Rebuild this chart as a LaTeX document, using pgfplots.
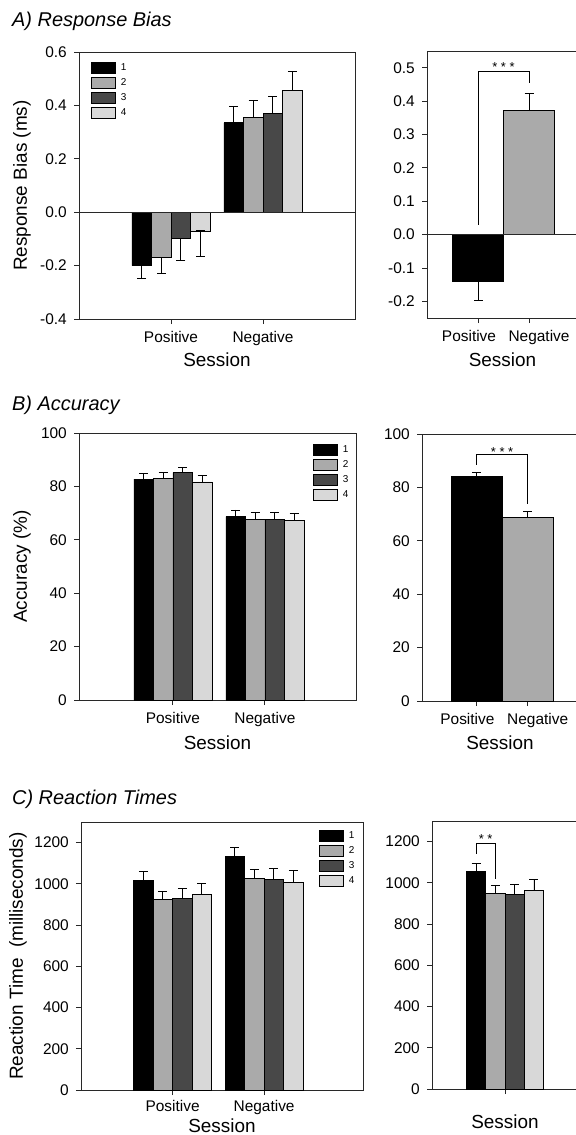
\documentclass[border=0pt]{standalone}
\usepackage{pgfplots}
\pgfplotsset{compat=1.18}
\usepackage{fontspec}
\setmainfont{Liberation Sans}
\definecolor{cA}{RGB}{0,0,0}
\definecolor{cB}{RGB}{170,170,170}
\definecolor{cC}{RGB}{72,72,72}
\definecolor{cD}{RGB}{216,216,216}
\definecolor{frm}{RGB}{40,40,40}
\pgfplotsset{
 panel/.style={
  scale only axis, anchor=south west,
  axis line style={line width=0.8bp, frm},
  tick align=outside, major tick length=5bp,
  every tick/.style={line width=0.8bp, frm},
  xtick pos=bottom, ytick pos=left,
  tick label style={font=\fontsize{15.5}{18}\selectfont},
  yticklabel style={inner sep=0pt, xshift=-7bp},
  xticklabel style={inner sep=0pt, yshift=-7bp},
  legend style={draw=none, fill=none, font=\fontsize{10}{12}\selectfont, anchor=north west,
    inner sep=0pt, row sep=3.3bp, column sep=5bp, nodes={inner sep=0pt}},
  legend cell align=left,
 },
 ylab/.style={every axis y label/.style={at={(axis description cs:#1,0.5)}, rotate=90, anchor=center, font=\fontsize{19}{22}\selectfont}},
 xlab/.style={every axis x label/.style={at={(axis description cs:0.5,#1)}, anchor=center, font=\fontsize{19}{22}\selectfont}},
 lg/.style={legend image code/.code={\draw[fill=#1, draw=black, line width=0.7bp] (0bp,-5.5bp) rectangle (24bp,5.5bp);}},
 b1/.style={fill=cA, draw=black, line width=0.6bp, lg=cA},
 b2/.style={fill=cB, draw=black, line width=0.6bp, lg=cB},
 b3/.style={fill=cC, draw=black, line width=0.6bp, lg=cC},
 b4/.style={fill=cD, draw=black, line width=0.6bp, lg=cD},
 eb/.style={error bars/y dir=plus, error bars/y explicit, error bars/error mark=-,
   error bars/error bar style={line width=0.8bp, black},
   error bars/error mark options={rotate=90, black, line width=0.8bp, mark size=4.5bp}},
 ebb/.style={error bars/y dir=both, error bars/y explicit, error bars/error mark=-,
   error bars/error bar style={line width=0.8bp, black},
   error bars/error mark options={rotate=90, black, line width=0.8bp, mark size=4.5bp}},
}
\begin{document}
\begin{tikzpicture}
\useasboundingbox (0bp,0bp) rectangle (576bp,-1135bp);
% Titles
\node[anchor=base west, inner sep=0pt, font=\fontsize{20}{24}\selectfont\itshape] at (12bp,-26.7bp) {A) Response Bias};
\node[anchor=base west, inner sep=0pt, font=\fontsize{20}{24}\selectfont\itshape] at (12bp,-410.7bp) {B) Accuracy};
\node[anchor=base west, inner sep=0pt, font=\fontsize{20}{24}\selectfont\itshape] at (12bp,-804bp) {C) Reaction Times};

% ---------- A left
\begin{axis}[panel, at={(79bp,-319bp)}, width=276bp, height=267bp,
  xmin=-1, xmax=2, ymin=-0.4, ymax=0.6,
  ytick={-0.4,-0.2,0,0.2,0.4,0.6}, yticklabels={-0.4,-0.2,0.0,0.2,0.4,0.6},
  xtick={0,1}, xticklabels={Positive,Negative},
  ybar=0pt, bar width=19.6bp,
  ylabel={Response Bias (ms)}, xlabel={Session},
  ylab=-0.2065, xlab=-0.1536,
  legend style={at={(axis description cs:0.0435,0.964)}}]
\addplot[b1, ebb] coordinates {(0,-0.200) += (0,0) -= (0,0.048) (1,0.335) += (0,0.060) -= (0,0)};
\addplot[b2, ebb] coordinates {(0,-0.169) += (0,0) -= (0,0.061) (1,0.355) += (0,0.064) -= (0,0)};
\addplot[b3, ebb] coordinates {(0,-0.097) += (0,0) -= (0,0.083) (1,0.370) += (0,0.062) -= (0,0)};
\addplot[b4, ebb] coordinates {(0,-0.070) += (0,0) -= (0,0.096) (1,0.456) += (0,0.071) -= (0,0)};
\legend{1,2,3,4}
\draw[line width=0.8bp, frm] (axis cs:-1,0) -- (axis cs:2,0);
\end{axis}

% ---------- A right
\begin{axis}[panel, at={(427bp,-318bp)}, width=151bp, height=267bp,
  xmin=-1, xmax=1.96, ymin=-0.25, ymax=0.55,
  ytick={-0.2,-0.1,0,0.1,0.2,0.3,0.4,0.5}, yticklabels={-0.2,-0.1,0.0,0.1,0.2,0.3,0.4,0.5},
  xtick={0,1}, xticklabels={{\hspace*{-18bp}Positive},{Negative\hspace*{-20bp}}},
  ybar, bar width=51bp, xlabel={Session}, xlab=-0.157]
\addplot[b1, ebb, bar shift=0pt] coordinates {(0,-0.140) += (0,0) -= (0,0.058)};
\addplot[b2, ebb, bar shift=0pt] coordinates {(1,0.372) += (0,0.051) -= (0,0)};
\draw[line width=0.8bp, frm] (axis cs:-1,0) -- (axis cs:1.96,0);
\draw[line width=0.8bp, black] (axis cs:0,0.029) -- (axis cs:0,0.49) -- (axis cs:1,0.49) -- (axis cs:1,0.454);
\node[anchor=base, inner sep=0pt, font=\fontsize{13}{15}\selectfont] at (axis cs:0.5,0.49) {* * *};
\end{axis}

% ---------- B left
\begin{axis}[panel, at={(79bp,-700bp)}, width=277bp, height=267bp,
  xmin=-1.02, xmax=1.99, ymin=0, ymax=100,
  ytick={0,20,40,60,80,100}, yticklabels={0,20,40,60,80,100},
  xtick={0,1}, xticklabels={Positive,Negative},
  ybar=0pt, bar width=19.5bp,
  ylabel={Accuracy (\%)}, xlabel={Session},
  ylab=-0.206, xlab=-0.161,
  legend style={at={(axis description cs:0.845,0.961)}}]
\addplot[b1, eb] coordinates {(0,82.7) +- (0,2.1) (1,68.7) +- (0,2.5)};
\addplot[b2, eb] coordinates {(0,82.9) +- (0,2.3) (1,67.7) +- (0,2.6)};
\addplot[b3, eb] coordinates {(0,85.2) +- (0,1.8) (1,67.6) +- (0,2.7)};
\addplot[b4, eb] coordinates {(0,81.7) +- (0,2.3) (1,67.3) +- (0,2.7)};
\legend{1,2,3,4}
\end{axis}

% ---------- B right
\begin{axis}[panel, at={(422bp,-701bp)}, width=156bp, height=267bp,
  xmin=-1.06, xmax=1.98, ymin=0, ymax=100,
  ytick={0,20,40,60,80,100}, yticklabels={0,20,40,60,80,100},
  xtick={0,1}, xticklabels={{\hspace*{-18bp}Positive},{Negative\hspace*{-20bp}}},
  ybar, bar width=51bp, xlabel={Session}, xlab=-0.157]
\addplot[b1, eb, bar shift=0pt] coordinates {(0,84.1) +- (0,1.5)};
\addplot[b2, eb, bar shift=0pt] coordinates {(1,68.9) +- (0,2.2)};
\draw[line width=0.8bp, black] (axis cs:0,88.4) -- (axis cs:0,92.4) -- (axis cs:1,92.4) -- (axis cs:1,73.6);
\node[anchor=base, inner sep=0pt, yshift=-2bp, font=\fontsize{13}{15}\selectfont] at (axis cs:0.5,92.4) {* * *};
\end{axis}

% ---------- C left
\begin{axis}[panel, at={(81bp,-1090bp)}, width=282bp, height=268bp,
  xmin=-1, xmax=2.08, ymin=0, ymax=1300,
  ytick={0,200,400,600,800,1000,1200}, yticklabels={0,200,400,600,800,1000,1200},
  xtick={0,1}, xticklabels={Positive,Negative},
  xticklabel style={yshift=2bp},
  ybar=0pt, bar width=19.5bp,
  ylabel={Reaction Time\ \ (milliseconds)}, xlabel={Session},
  ylab=-0.2234, xlab=-0.134,
  legend style={at={(axis description cs:0.844,0.972)}}]
\addplot[b1, eb] coordinates {(0,1017) +- (0,42) (1,1135) +- (0,42)};
\addplot[b2, eb] coordinates {(0,925) +- (0,39) (1,1027) +- (0,42)};
\addplot[b3, eb] coordinates {(0,931) +- (0,47) (1,1023) +- (0,51)};
\addplot[b4, eb] coordinates {(0,949) +- (0,53) (1,1009) +- (0,58)};
\legend{1,2,3,4}
\end{axis}

% ---------- C right
\begin{axis}[panel, at={(432bp,-1089bp)}, width=146bp, height=268bp,
  xmin=-1, xmax=1, ymin=0, ymax=1300,
  ytick={0,200,400,600,800,1000,1200}, yticklabels={0,200,400,600,800,1000,1200},
  xtick={0}, xticklabels={},
  ybar=0pt, bar width=19.3bp, xlabel={Session}, xlab=-0.123]
\addplot[b1, eb] coordinates {(0,1054) +- (0,39)};
\addplot[b2, eb] coordinates {(0,949) +- (0,39)};
\addplot[b3, eb] coordinates {(0,945) +- (0,47)};
\addplot[b4, eb] coordinates {(0,963) +- (0,52)};
\draw[line width=0.8bp, black] (axis cs:-0.397,1140) -- (axis cs:-0.397,1192) -- (axis cs:-0.132,1192) -- (axis cs:-0.132,1018);
\node[anchor=base, inner sep=0pt, font=\fontsize{13}{15}\selectfont] at (axis cs:-0.2645,1192) {* *};
\end{axis}
\end{tikzpicture}
\end{document}
